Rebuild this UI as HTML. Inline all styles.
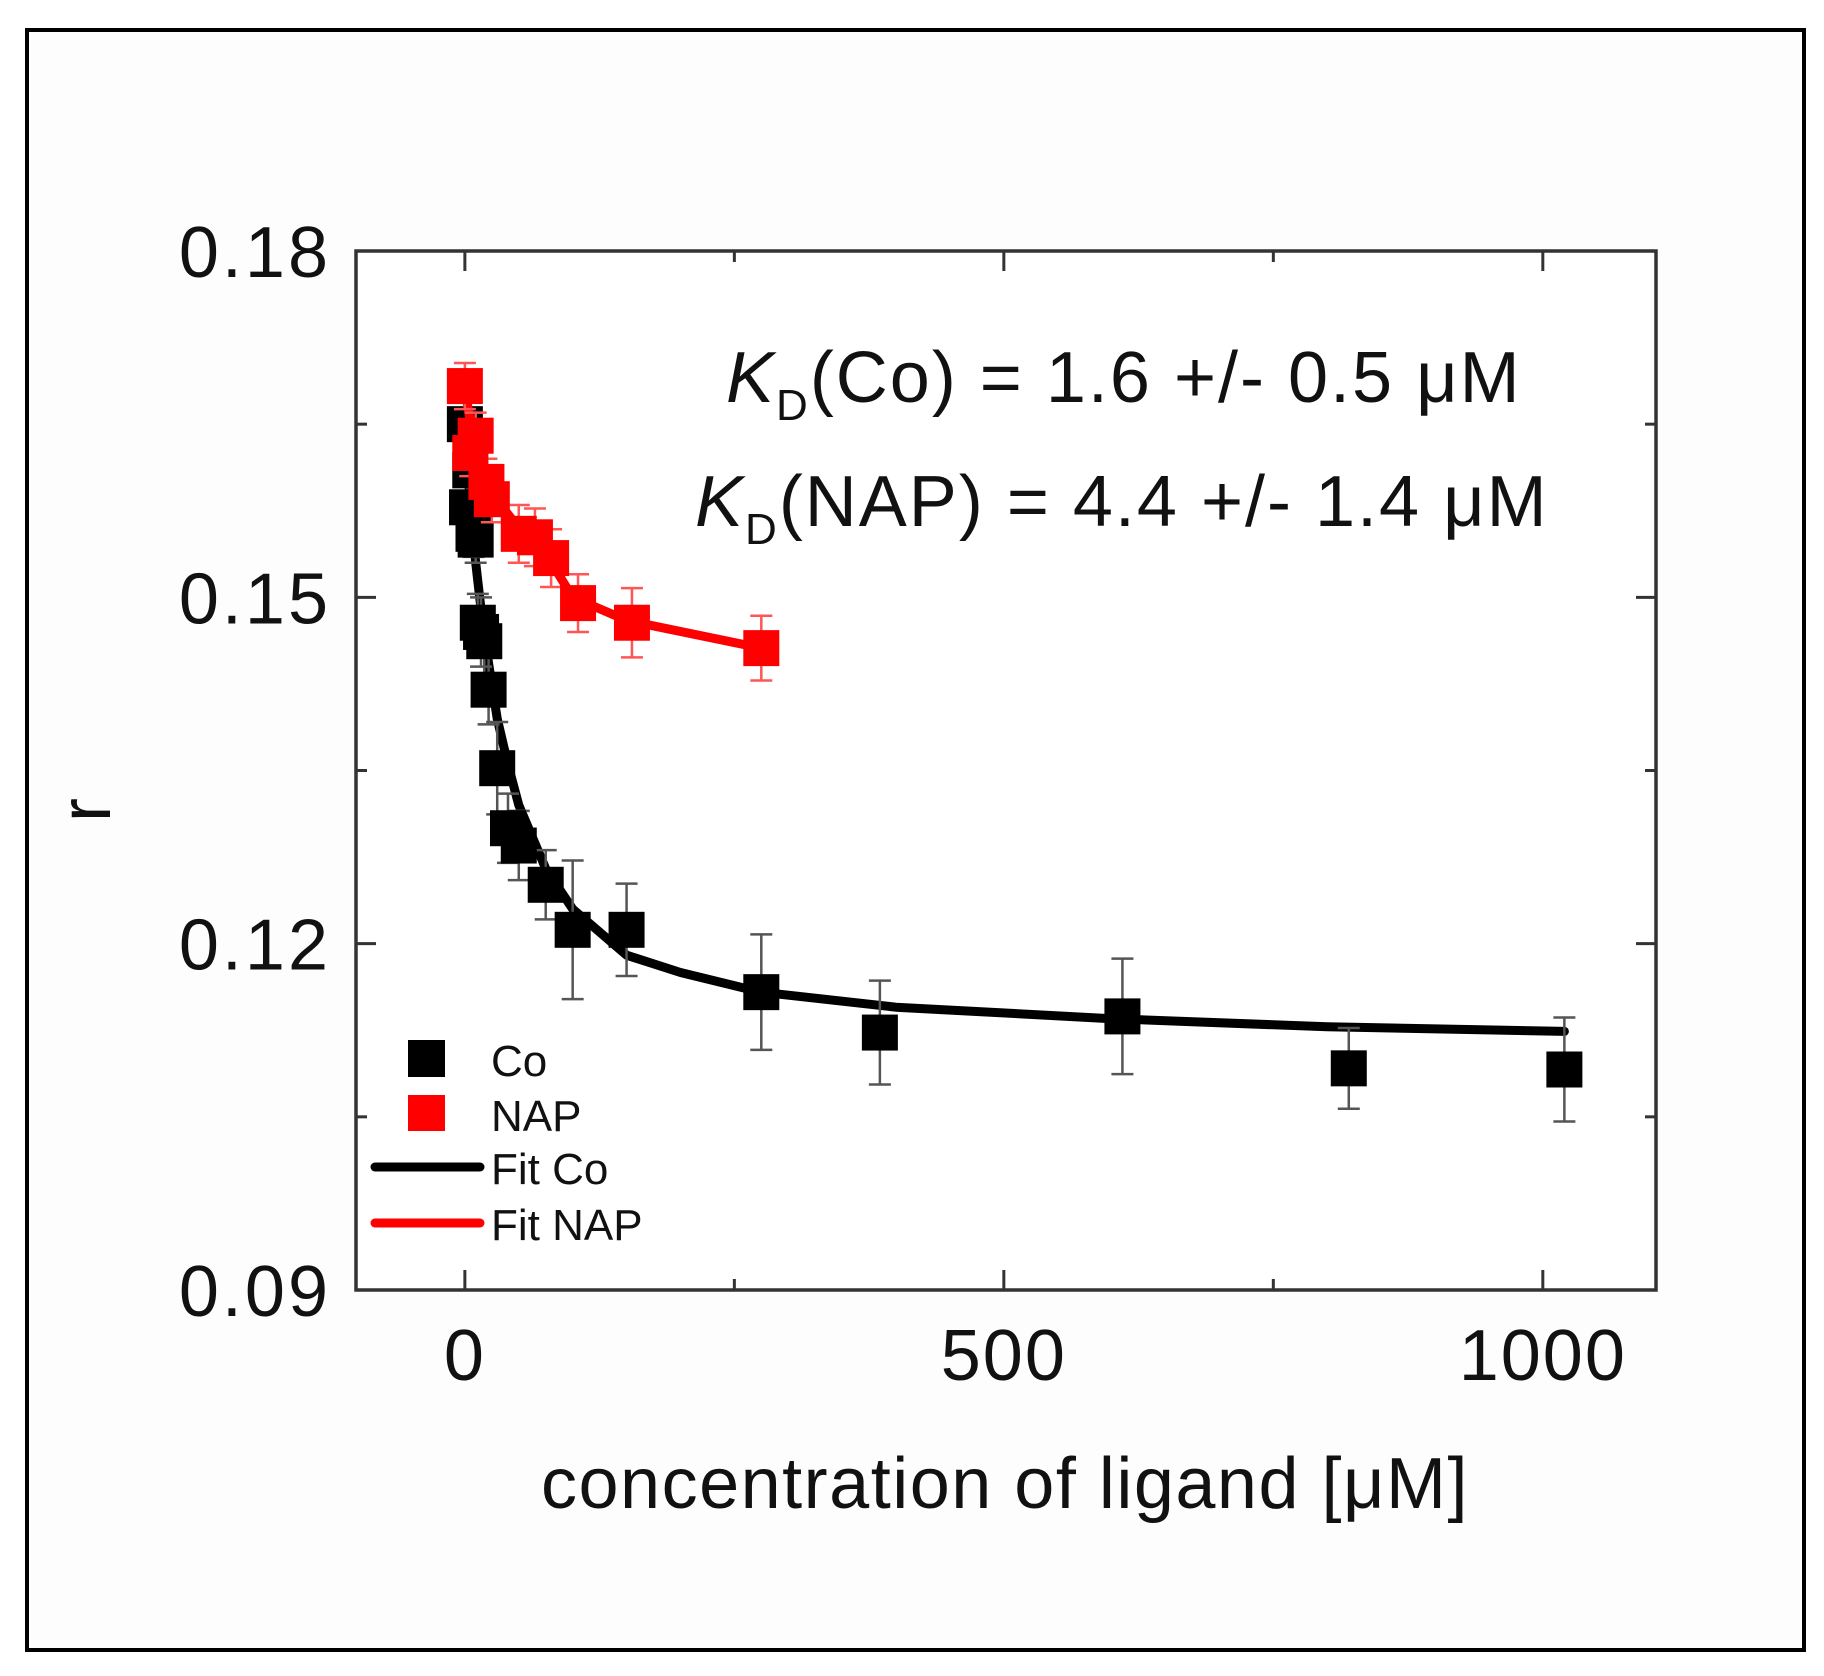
<!DOCTYPE html>
<html><head><meta charset="utf-8"><style>
html,body{margin:0;padding:0;background:#fff;}
svg{display:block;font-family:"Liberation Sans",Arial,sans-serif;}
</style></head><body>
<svg id="chart" width="1824" height="1676" viewBox="0 0 1824 1676">
<rect x="0" y="0" width="1824" height="1676" fill="#fff"/>
<rect x="27" y="30" width="1777" height="1620" fill="#fdfdfd" stroke="#000" stroke-width="4"/>
<g id="plot"></g>
</svg>
<script>
const coX = [0, 2, 5, 8, 10, 12, 15, 18, 22, 30, 40, 50, 75, 100, 150, 275, 385, 610, 820, 1020];
const coY = [0.1650, 0.1578, 0.1610, 0.1555, 0.1550, 0.1478, 0.1470, 0.1462, 0.1420, 0.1352, 0.1300, 0.1285, 0.1251, 0.1212, 0.1212, 0.1158, 0.1123, 0.1137, 0.1092, 0.1091];
const coErr = [0.002, 0.002, 0.002, 0.002, 0.002, 0.0025, 0.003, 0.003, 0.003, 0.004, 0.003, 0.003, 0.003, 0.006, 0.004, 0.005, 0.0045, 0.005, 0.0035, 0.0045];
const napX = [0, 5, 10, 20, 25, 50, 65, 80, 105, 155, 275];
const napY = [0.1683, 0.1625, 0.1640, 0.1600, 0.1585, 0.1555, 0.1552, 0.1534, 0.1495, 0.1478, 0.1456];
const napErr = [0.002, 0.002, 0.002, 0.002, 0.002, 0.0025, 0.0025, 0.0025, 0.0025, 0.003, 0.0028];
const fitCoX = [0, 5, 10, 15, 20, 30, 40, 50, 75, 100, 150, 200, 275, 400, 600, 800, 1020];
const fitCoY = [0.1650, 0.1580, 0.1530, 0.1490, 0.1455, 0.1395, 0.1355, 0.1320, 0.1265, 0.1230, 0.1190, 0.1175, 0.1158, 0.1145, 0.1135, 0.1128, 0.1124];
const fitNapX = [0, 10, 25, 50, 75, 100, 150, 275];
const fitNapY = [0.1680, 0.1625, 0.1590, 0.1560, 0.1538, 0.1500, 0.1480, 0.1456];
const yTicks = [0.09, 0.12, 0.15, 0.18];
const yTickLabels = ["0.09", "0.12", "0.15", "0.18"];
const yMinor = [0.105, 0.135, 0.165];
const xTicks = [0, 500, 1000];
const xTickLabels = ["0", "500", "1000"];
const xMinor = [250, 750];

const L=356,R=1656,T=251,B=1290, X0=-101, X1=1105, Y0=0.09, Y1=0.18;
const sx=v=>L+(v-X0)/(X1-X0)*(R-L);
const sy=v=>B-(v-Y0)/(Y1-Y0)*(B-T);
const NS="http://www.w3.org/2000/svg";
const g=document.getElementById('plot');
function mk(tag,attrs,parent){const e=document.createElementNS(NS,tag);for(const k in attrs)e.setAttribute(k,attrs[k]);(parent||g).appendChild(e);return e;}

let frame=mk('rect',{x:L,y:T,width:R-L,height:B-T,fill:'#fff',stroke:'#333','stroke-width':3.5});



yTicks.forEach((v,i)=>{
  let t=mk('line',{x1:L,x2:L+20,y1:sy(v),y2:sy(v),stroke:'#333','stroke-width':3});
  
  
  let t2=mk('line',{x1:R,x2:R-20,y1:sy(v),y2:sy(v),stroke:'#333','stroke-width':3});
  
  
  let tx=mk('text',{x:331,y:sy(v)+26,'text-anchor':'end','font-size':72,'letter-spacing':3,fill:'#111'});
  tx.textContent=yTickLabels[i];
  
  
});
yMinor.forEach(v=>{
  let t=mk('line',{x1:L,x2:L+11,y1:sy(v),y2:sy(v),stroke:'#333','stroke-width':3});
  
  
  let t2=mk('line',{x1:R,x2:R-11,y1:sy(v),y2:sy(v),stroke:'#333','stroke-width':3});
  
  
});
xTicks.forEach((v,i)=>{
  let t=mk('line',{x1:sx(v),x2:sx(v),y1:B,y2:B-20,stroke:'#333','stroke-width':3});
  
  
  let t2=mk('line',{x1:sx(v),x2:sx(v),y1:T,y2:T+20,stroke:'#333','stroke-width':3});
  
  
  let tx=mk('text',{x:sx(v),y:1380,'text-anchor':'middle','font-size':72,'letter-spacing':2,fill:'#111'});
  tx.textContent=xTickLabels[i];
  
  
});
xMinor.forEach(v=>{
  let t=mk('line',{x1:sx(v),x2:sx(v),y1:B,y2:B-11,stroke:'#333','stroke-width':3});
  
  
  let t2=mk('line',{x1:sx(v),x2:sx(v),y1:T,y2:T+11,stroke:'#333','stroke-width':3});
  
  
});

function series(xs,ys,errs,fx,fy,color,ecol,name){
  let d=fx.map((v,i)=>(i?'L':'M')+sx(v).toFixed(1)+','+sy(fy[i]).toFixed(1)).join(' ');
  let p=mk('path',{d:d,fill:'none',stroke:color,'stroke-width':9,'stroke-linejoin':'round','stroke-linecap':'round'});
  
  
  xs.forEach((v,i)=>{
    const x=sx(v),y1=sy(ys[i]+errs[i]),y2=sy(ys[i]-errs[i]);
    let e=mk('path',{d:`M${x},${y1} L${x},${y2} M${x-11},${y1} L${x+11},${y1} M${x-11},${y2} L${x+11},${y2}`,stroke:ecol,'stroke-width':2.5,fill:'none'});
    
    
  });
  xs.forEach((v,i)=>{
    let s=mk('rect',{x:sx(v)-18,y:sy(ys[i])-18,width:36,height:36,fill:color});
    
    
  });
}
series(coX,coY,coErr,fitCoX,fitCoY,'#000','#555','co');
series(napX,napY,napErr,fitNapX,fitNapY,'#f00','#f55','nap');

let lg=mk('g',{});


let ls1=mk('rect',{x:408,y:1040,width:37,height:37,fill:'#000'},lg);


let ls2=mk('rect',{x:408,y:1095,width:37,height:36,fill:'#f00'},lg);


let ll1=mk('line',{x1:375,x2:480,y1:1167,y2:1167,stroke:'#000','stroke-width':9,'stroke-linecap':'round'},lg);


let ll2=mk('line',{x1:375,x2:480,y1:1223,y2:1223,stroke:'#f00','stroke-width':9,'stroke-linecap':'round'},lg);


[['Co',1076,491],['NAP',1131,491],['Fit Co',1184,491],['Fit NAP',1240,491]].forEach(a=>{
  let t=mk('text',{x:a[2],y:a[1],'font-size':44,fill:'#111'},lg);
  t.textContent=a[0];
  
  
});
</script>
<div style="position:absolute;left:0;top:0;width:1824px;height:1676px;pointer-events:none;">
<svg width="1824" height="1676" style="font-family:'Liberation Sans',Arial,sans-serif;">
<text x="726" y="402" font-size="72" letter-spacing="2" fill="#111"><tspan font-style="italic">K</tspan><tspan font-size="44" dy="18">D</tspan><tspan dy="-18">(Co) = 1.6 +/- 0.5 μM</tspan></text>
<text x="695" y="526" font-size="72" letter-spacing="2" fill="#111"><tspan font-style="italic">K</tspan><tspan font-size="44" dy="18">D</tspan><tspan dy="-18">(NAP) = 4.4 +/- 1.4 μM</tspan></text>
<text x="1005" y="1508" font-size="72" letter-spacing="1.5" fill="#111" text-anchor="middle">concentration of ligand [μM]</text>
<text x="0" y="0" font-size="72" fill="#111" text-anchor="middle" transform="translate(110,810) rotate(-90)">r</text>
</svg>
</div>
</body></html>
